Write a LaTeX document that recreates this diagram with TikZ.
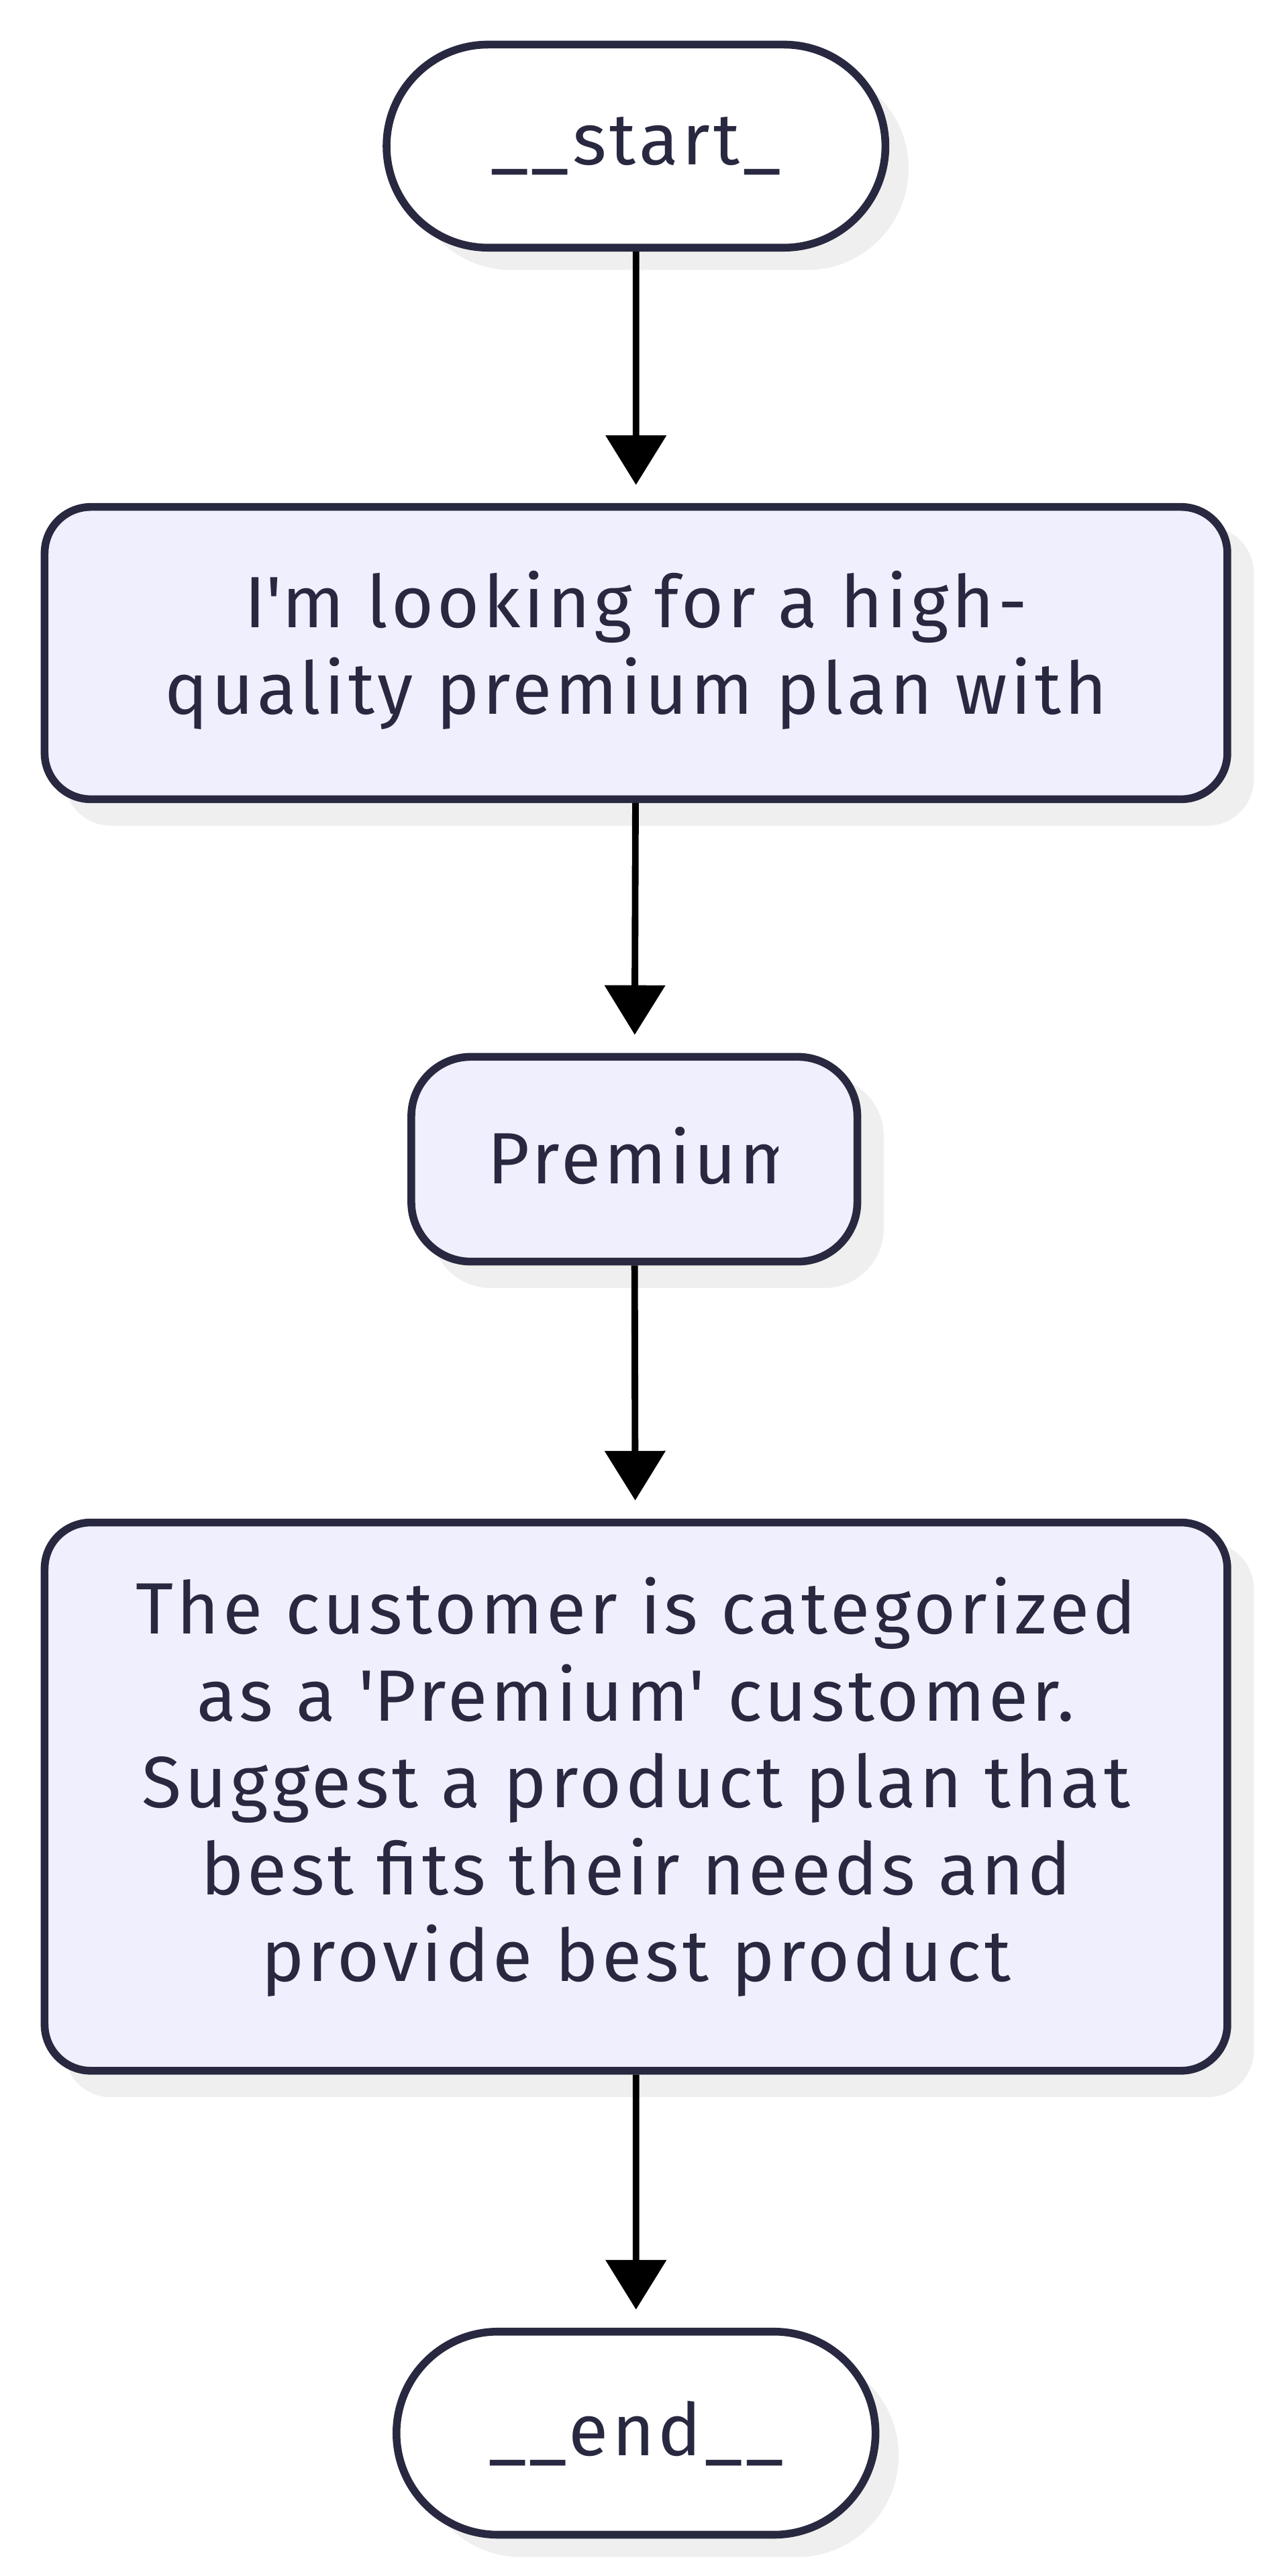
\documentclass[tikz,border=0pt]{standalone}
\usepackage{fontspec}
\setmainfont{Fira Sans}[LetterSpace=4.8]
\usetikzlibrary{arrows.meta,shapes.misc}
\definecolor{edgec}{HTML}{282840}
\definecolor{boxfill}{HTML}{F0EFFD}
\definecolor{shadowc}{HTML}{EFEFEF}
\definecolor{textc}{HTML}{282840}
\tikzset{
  x=1pt,y=-1pt,
  lbl/.style={text=textc,font=\fontsize{44}{52.6}\selectfont,align=center},
  base/.style={draw=edgec,line width=4.7pt,text=textc,font=\fontsize{44}{52.6}\selectfont,align=center,inner sep=0pt},
  stad/.style={base,fill=white,rounded rectangle,minimum width=302pt,minimum height=123pt},
  procbox/.style={base,fill=boxfill,rounded corners=28pt},
  flow/.style={draw=black,line width=4pt,shorten >=11pt,-{Triangle[length=30pt,width=36pt]}},
}
\newcommand{\dropby}[1]{\rule[-#1]{0pt}{1pt}}
\begin{document}
\begin{tikzpicture}
\useasboundingbox (0,0) rectangle (768,1560);
% shadows
\node[stad,fill=shadowc,draw=none] at (399,102) {};
\fill[shadowc,rounded corners=28pt] (39,319) rectangle (759,500);
\fill[shadowc,rounded corners=36pt] (261,652) rectangle (535,780);
\fill[shadowc,rounded corners=28pt] (39,934) rectangle (759,1270);
\node[stad,fill=shadowc,draw=none,minimum width=290pt] at (399,1487) {};
% nodes
\node[stad] (start) at (385,88.5) {\_\_start\_};
\node[procbox,minimum width=716pt,minimum height=177pt] (q) at (385,395.5) {I\textquotesingle m looking for a high-\\quality premium plan with\dropby{13pt}};
\node[procbox,rounded corners=36pt,minimum width=270pt,minimum height=124pt] (prem) at (384,702) {};
\begin{scope}
\clip (292,650) rectangle (471,760);
\node[lbl,anchor=west,inner sep=0pt] (premtext) at (295,700) {Premium};
\end{scope}
\node[procbox,minimum width=716pt,minimum height=332pt] (ans) at (385,1088) {The customer is categorized\\as a \textquotesingle Premium\textquotesingle{} customer.\\Suggest a product plan that\\best fits their needs and\\provide best product\dropby{21pt}};
\node[stad,minimum width=290pt] (end) at (385,1473.5) {\_\_end\_\_};
% connectors
\draw[flow] (start) -- (q);
\draw[flow] (q) -- (prem);
\draw[flow] (prem) -- (ans);
\draw[flow] (ans) -- (end);
\end{tikzpicture}
\end{document}
